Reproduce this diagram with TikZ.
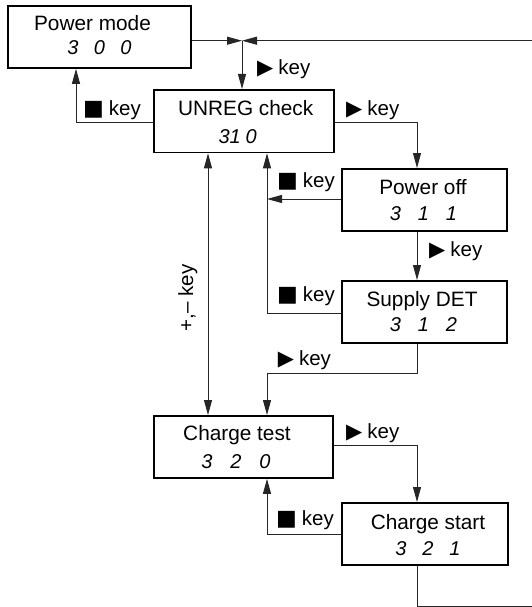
\documentclass[tikz,border=0pt]{standalone}
\usepackage{fontspec}
\setmainfont{Liberation Sans}
\newfontfamily\symfont{DejaVu Sans}
\usetikzlibrary{arrows.meta,calc}
\tikzset{
  box/.style={draw, line width=1.8pt, inner sep=0pt, anchor=north west},
  conn/.style={line width=0.9pt, draw=black!85},
  arr/.style={conn, -{Triangle[length=15pt,width=8pt]}},
  ttl/.style={anchor=base, inner sep=0pt, font=\fontsize{20.8}{24}\selectfont},
  dig/.style={anchor=base, inner sep=0pt, font=\fontsize{20}{22}\selectfont\itshape},
  lab/.style={anchor=base west, inner sep=0pt, font=\fontsize{20.5}{24}\selectfont},
}
\newcommand{\fwd}{{\symfont\fontsize{21}{21}\selectfont ▶}\hspace{5pt}}
\newcommand{\stp}{{\symfont\fontsize{22}{22}\selectfont ■}\hspace{5pt}}
\newcommand{\seg}[4]{\makebox[#1][c]{#2}\makebox[#1][c]{#3}\makebox[#1][c]{#4}}
\begin{document}
\begin{tikzpicture}[x=1pt,y=-1pt]
\useasboundingbox (0,0) rectangle (532,607);
% boxes
\node[box, minimum width=183pt, minimum height=62pt] (pm)  at (7,5) {};
\node[box, minimum width=180pt, minimum height=62.5pt] (un)  at (153,89) {};
\node[box, minimum width=165pt, minimum height=62pt] (pof) at (341,168) {};
\node[box, minimum width=165pt, minimum height=62pt] (sd)  at (341,280) {};
\node[box, minimum width=179pt, minimum height=62pt] (ct)  at (153,415) {};
\node[box, minimum width=166pt, minimum height=62pt] (cs)  at (341,502) {};
% titles
\node[ttl] (pmt) at (92.5,31) {Power mode};
\node[ttl] (unt) at (245.7,116) {UNREG check};
\node[ttl] (poft) at (423,194) {Power off};
\node[ttl] (sdt) at (422,306.7) {Supply DET};
\node[ttl] (ctt) at (237,440.5) {Charge test};
\node[ttl] (cst) at (428,529.3) {Charge start};
% digits
\node[dig] (pmd) at (99.5,55) {\seg{26.5pt}{3}{0}{0}};
\node[dig, anchor=base west] (und) at (218.5,143) {\makebox[11pt][c]{3}\makebox[11pt][c]{1}\makebox[21pt][c]{0}};
\node[dig] (pofd) at (423.5,220.7) {\seg{28pt}{3}{1}{1}};
\node[dig] (sdd) at (423.5,331.7) {\seg{28pt}{3}{1}{2}};
\node[dig] (ctd) at (236,468.3) {\seg{29pt}{3}{2}{0}};
\node[dig] (csd) at (428,555) {\seg{27pt}{3}{2}{1}};
% helper coordinates
\coordinate (J) at (242,40.7);
\coordinate (c417) at (417,0);
\coordinate (c267) at (267,0);
\coordinate (c208) at (208,0);
\coordinate (c76) at (76,0);
\coordinate (c540) at (540,0);
\coordinate (p1) at ($(pof.north west)+(0,31)$);
% connectors
\draw[arr] (pm.east |- J) -- (J);
\draw[arr] (cs.south -| c417) -- ++(0,41) -| (c540 |- J) -- (J);
\draw[arr] (J) -- (J |- un.north);
\draw[arr] ($(un.north west)+(0,33)$) -| (pm.south -| c76);
\draw[arr] ($(un.north east)+(0,33)$) -| (pof.north -| c417);
\draw[arr] (p1) -- (p1 -| c267);
\draw[arr] ($(sd.north west)+(0,33)$) -| (un.south -| c267);
\draw[arr] (pof.south -| c417) -- (sd.north -| c417);
\draw[arr] (sd.south -| c417) -- ++(0,30) -| (ct.north -| c267);
\draw[conn, {Triangle[length=15pt,width=8pt]}-{Triangle[length=15pt,width=8pt]}] (un.south -| c208) -- (ct.north -| c208);
\draw[arr] ($(ct.north east)+(0,30)$) -| (cs.north -| c417);
\draw[arr] ($(cs.north west)+(0,32)$) -| (ct.south -| c267);
% labels
\node[lab] (l1) at (257,75) {\fwd key};
\node[lab] (l2) at (83,115) {\stp key};
\node[lab] (l3) at (346,115) {\fwd key};
\node[lab] (l4) at (277,187) {\stp key};
\node[lab] (l5) at (277,301.7) {\stp key};
\node[lab] (l6) at (429,256.7) {\fwd key};
\node[lab] (l7) at (277.7,365) {\fwd key};
\node[lab] (l8) at (346,438) {\fwd key};
\node[lab] (l9) at (276,525) {\stp key};
\node[anchor=base, inner sep=0pt, rotate=90, font=\fontsize{20.5}{24}\selectfont] (l10) at (193,298) {+,– key};
\end{tikzpicture}
\end{document}
